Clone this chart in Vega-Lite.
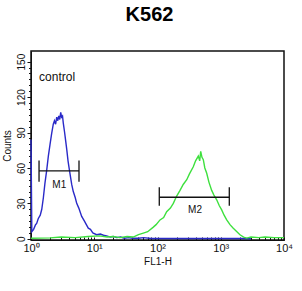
{
  "$schema": "https://vega.github.io/schema/vega-lite/v6.json",
  "autosize": "none",
  "width": 253,
  "height": 189,
  "padding": {"left": 31, "top": 51, "right": 18, "bottom": 51},
  "background": "white",
  "title": {"text": "K562", "fontSize": 20, "fontWeight": "bold", "font": "Liberation Sans", "color": "black", "anchor": "middle", "dx": -8, "offset": 26},
  "config": {
    "view": {"stroke": "#111", "strokeWidth": 1.5},
    "axis": {"domainColor": "#111", "tickColor": "#111", "labelColor": "#111", "titleColor": "#111", "labelFont": "Liberation Sans", "titleFont": "Liberation Sans", "grid": false, "titleFontWeight": "normal", "labelOverlap": false}
  },
  "resolve": {"axis": {"y": "independent"}},
  "datasets": {
    "hist": [
      {"s": "control", "x": 1.0, "y": 84}, {"s": "control", "x": 1.03, "y": 6}, {"s": "control", "x": 1.1, "y": 8}, {"s": "control", "x": 1.18, "y": 12}, {"s": "control", "x": 1.23, "y": 13}, {"s": "control", "x": 1.3, "y": 17}, {"s": "control", "x": 1.4, "y": 20}, {"s": "control", "x": 1.48, "y": 25}, {"s": "control", "x": 1.57, "y": 35}, {"s": "control", "x": 1.66, "y": 47}, {"s": "control", "x": 1.77, "y": 58}, {"s": "control", "x": 1.88, "y": 70}, {"s": "control", "x": 2.0, "y": 80}, {"s": "control", "x": 2.12, "y": 89}, {"s": "control", "x": 2.25, "y": 97}, {"s": "control", "x": 2.35, "y": 100}, {"s": "control", "x": 2.45, "y": 97}, {"s": "control", "x": 2.55, "y": 103}, {"s": "control", "x": 2.65, "y": 100}, {"s": "control", "x": 2.75, "y": 104}, {"s": "control", "x": 2.85, "y": 101}, {"s": "control", "x": 2.95, "y": 107}, {"s": "control", "x": 3.05, "y": 103}, {"s": "control", "x": 3.15, "y": 104}, {"s": "control", "x": 3.24, "y": 98}, {"s": "control", "x": 3.4, "y": 90}, {"s": "control", "x": 3.55, "y": 82}, {"s": "control", "x": 3.67, "y": 76}, {"s": "control", "x": 3.85, "y": 66}, {"s": "control", "x": 4.0, "y": 60}, {"s": "control", "x": 4.14, "y": 55}, {"s": "control", "x": 4.4, "y": 46}, {"s": "control", "x": 4.66, "y": 40}, {"s": "control", "x": 5.0, "y": 35}, {"s": "control", "x": 5.28, "y": 30}, {"s": "control", "x": 5.7, "y": 26}, {"s": "control", "x": 6.33, "y": 19}, {"s": "control", "x": 7.0, "y": 15}, {"s": "control", "x": 7.5, "y": 12}, {"s": "control", "x": 8.05, "y": 9}, {"s": "control", "x": 8.7, "y": 8}, {"s": "control", "x": 9.5, "y": 5}, {"s": "control", "x": 10.9, "y": 3.5}, {"s": "control", "x": 12.5, "y": 4}, {"s": "control", "x": 14, "y": 3}, {"s": "control", "x": 15.7, "y": 2.5}, {"s": "control", "x": 18, "y": 1.5}, {"s": "control", "x": 20, "y": 2}, {"s": "control", "x": 22.6, "y": 1}, {"s": "control", "x": 26, "y": 1.5}, {"s": "control", "x": 30, "y": 0.5}, {"s": "control", "x": 35, "y": 1}, {"s": "control", "x": 40, "y": 0.5}, {"s": "control", "x": 50, "y": 0.5}, {"s": "control", "x": 60, "y": 1}, {"s": "control", "x": 80, "y": 0.3}, {"s": "control", "x": 200, "y": 0.3}, {"s": "control", "x": 1000, "y": 0.3}, {"s": "control", "x": 2500, "y": 0.3}, {"s": "control", "x": 3000, "y": 0},
      {"s": "sample", "x": 1.0, "y": 0.5}, {"s": "sample", "x": 2, "y": 0.8}, {"s": "sample", "x": 3, "y": 1.5}, {"s": "sample", "x": 5, "y": 1}, {"s": "sample", "x": 8, "y": 2}, {"s": "sample", "x": 12, "y": 2.5}, {"s": "sample", "x": 16, "y": 1.5}, {"s": "sample", "x": 20, "y": 2}, {"s": "sample", "x": 25.5, "y": 1}, {"s": "sample", "x": 33, "y": 2}, {"s": "sample", "x": 41.4, "y": 1.5}, {"s": "sample", "x": 50, "y": 3.5}, {"s": "sample", "x": 59.7, "y": 4.8}, {"s": "sample", "x": 70, "y": 6}, {"s": "sample", "x": 85.9, "y": 9.9}, {"s": "sample", "x": 95, "y": 12}, {"s": "sample", "x": 109.6, "y": 16}, {"s": "sample", "x": 125, "y": 18}, {"s": "sample", "x": 139.6, "y": 23}, {"s": "sample", "x": 160, "y": 26}, {"s": "sample", "x": 177.8, "y": 30}, {"s": "sample", "x": 200, "y": 36}, {"s": "sample", "x": 227, "y": 41}, {"s": "sample", "x": 255, "y": 46}, {"s": "sample", "x": 290, "y": 50}, {"s": "sample", "x": 320, "y": 55}, {"s": "sample", "x": 368, "y": 61}, {"s": "sample", "x": 400, "y": 66}, {"s": "sample", "x": 442, "y": 70}, {"s": "sample", "x": 465, "y": 66}, {"s": "sample", "x": 482, "y": 74}, {"s": "sample", "x": 505, "y": 69}, {"s": "sample", "x": 530, "y": 67}, {"s": "sample", "x": 560, "y": 60}, {"s": "sample", "x": 600, "y": 55.5}, {"s": "sample", "x": 650, "y": 48}, {"s": "sample", "x": 719, "y": 41}, {"s": "sample", "x": 780, "y": 37}, {"s": "sample", "x": 863, "y": 33}, {"s": "sample", "x": 950, "y": 28}, {"s": "sample", "x": 1035, "y": 24.5}, {"s": "sample", "x": 1130, "y": 20}, {"s": "sample", "x": 1242, "y": 16}, {"s": "sample", "x": 1400, "y": 12}, {"s": "sample", "x": 1578, "y": 9}, {"s": "sample", "x": 1800, "y": 6}, {"s": "sample", "x": 2014, "y": 3.4}, {"s": "sample", "x": 2300, "y": 1.5}, {"s": "sample", "x": 2570, "y": 0.6}, {"s": "sample", "x": 3000, "y": 1.5}, {"s": "sample", "x": 4000, "y": 1}, {"s": "sample", "x": 5000, "y": 1.5}, {"s": "sample", "x": 7000, "y": 1}, {"s": "sample", "x": 10000, "y": 1}
    ],
    "markers": [
      {"m": "M1", "x1": 1.34, "x2": 5.74, "y": 57.5, "lx": 2.8, "ly": 45.6},
      {"m": "M2", "x1": 106.7, "x2": 1365, "y": 35.2, "lx": 392, "ly": 24.5}
    ],
    "ends": [
      {"x": 1.34, "y1": 48.4, "y2": 66.2}, {"x": 5.74, "y1": 48.4, "y2": 66.2},
      {"x": 106.7, "y1": 27.9, "y2": 43.7}, {"x": 1365, "y1": 27.9, "y2": 43.7}
    ],
    "notes": [{"t": "control", "x": 1.34, "y": 133.6}]
  },
  "layer": [
    {
      "data": {"name": "hist"},
      "mark": {"type": "line", "strokeWidth": 1.4, "interpolate": "linear"},
      "encoding": {
        "x": {"field": "x", "type": "quantitative", "scale": {"type": "log", "domain": [1, 10000], "nice": false},
          "axis": {"title": "FL1-H", "titleFontSize": 10, "titlePadding": 3, "values": [1,2,3,4,5,6,7,8,9,10,20,30,40,50,60,70,80,90,100,200,300,400,500,600,700,800,900,1000,2000,3000,4000,5000,6000,7000,8000,9000,10000],
            "labelExpr": "indexof([1,10,100,1000,10000], datum.value) >= 0 ? '10' + ['⁰','¹','²','³','⁴'][round(log(datum.value)/LN10)] : ''",
            "tickSize": -3, "labelPadding": 5, "labelFontSize": 11, "labelFlush": false, "labelOverlap": false}},
        "y": {"field": "y", "type": "quantitative", "scale": {"domain": [-1, 159], "nice": false, "zero": false},
          "axis": {"orient": "left", "title": "Counts", "titleFontSize": 10, "titlePadding": 4, "values": [0, 30, 60, 90, 120, 150],
            "labelAngle": -90, "labelAlign": "center", "labelBaseline": "bottom",
            "tickSize": 4, "labelPadding": 1, "labelFontSize": 10, "labelOverlap": false, "labelFlush": false, "labelBound": false}},
        "color": {"field": "s", "type": "nominal", "scale": {"domain": ["control", "sample"], "range": ["#2a2ac8", "#3ee03e"]}, "legend": null}
      }
    },
    {
      "data": {"name": "markers"},
      "mark": {"type": "rule", "color": "#111", "strokeWidth": 1.3},
      "encoding": {"x": {"field": "x1", "type": "quantitative"}, "x2": {"field": "x2"},
        "y": {"field": "y", "type": "quantitative", "axis": {"orient": "left", "title": null, "labels": false, "domain": false, "tickSize": 2.5, "values": [0,5,10,15,20,25,35,40,45,50,55,65,70,75,80,85,95,100,105,110,115,125,130,135,140,145]}}}
    },
    {
      "data": {"name": "ends"},
      "mark": {"type": "rule", "color": "#111", "strokeWidth": 1.3},
      "encoding": {"x": {"field": "x", "type": "quantitative"}, "y": {"field": "y1", "type": "quantitative", "axis": null}, "y2": {"field": "y2"}}
    },
    {
      "data": {"name": "markers"},
      "mark": {"type": "text", "font": "Liberation Sans", "fontSize": 10, "color": "#111", "align": "center", "baseline": "middle"},
      "encoding": {"x": {"field": "lx", "type": "quantitative"}, "y": {"field": "ly", "type": "quantitative", "axis": null}, "text": {"field": "m"}}
    },
    {
      "data": {"name": "notes"},
      "mark": {"type": "text", "font": "Liberation Sans", "fontSize": 12, "color": "#111", "align": "left", "baseline": "alphabetic"},
      "encoding": {"x": {"field": "x", "type": "quantitative"}, "y": {"field": "y", "type": "quantitative", "axis": null}, "text": {"field": "t"}}
    }
  ]
}
